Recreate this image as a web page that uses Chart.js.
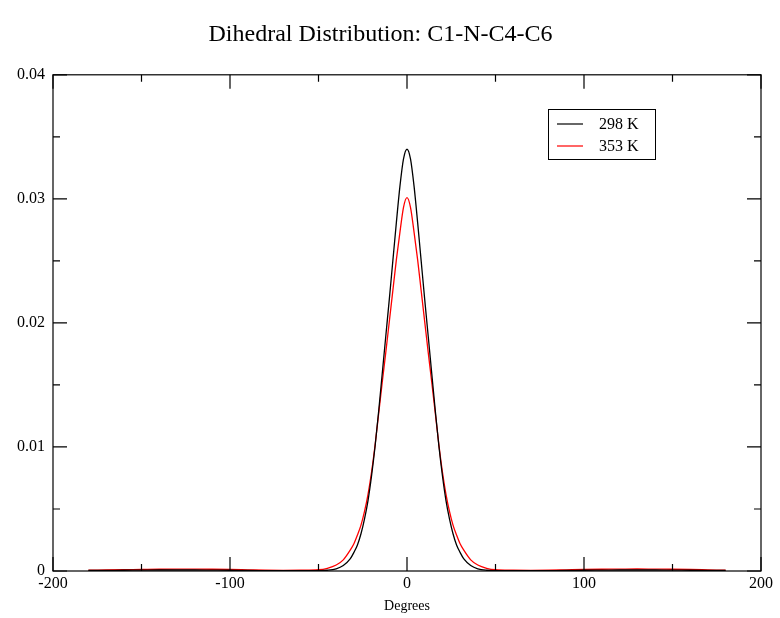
<!DOCTYPE html>
<html>
<head>
<meta charset="utf-8">
<script src="https://cdn.jsdelivr.net/npm/chart.js@4"></script>
<style>
  html, body { margin: 0; padding: 0; background: #fff; }
  #wrap { width: 780px; height: 618px; }
</style>
</head>
<body>
<div id="wrap"><canvas id="chart" width="780" height="618"></canvas></div>
<script>
// dihedral angle (degrees)
const angles = [
  -180, -170, -160, -150, -140, -130, -120, -110, -100, -90, -80, -70, -60, -50,
  -45, -40, -36, -32, -30, -28, -26, -24, -22, -20, -18, -16, -14, -12, -10, -8, -6, -4, -2,
  0,
  2, 4, 6, 8, 10, 12, 14, 16, 18, 20, 22, 24, 26, 28, 30, 32, 36, 40, 45,
  50, 60, 70, 80, 90, 100, 110, 120, 130, 140, 150, 160, 170, 180
];

const p298 = [
  0.00004, 0.00005, 0.00006, 0.00007, 0.00008, 0.00008, 0.00008, 0.00007, 0.00006, 0.00004, 0.00003, 0.00002, 0.00002, 0.00003,
  0.00006, 0.00018, 0.00045, 0.00100, 0.00150, 0.00210, 0.00300, 0.00420, 0.00570, 0.00770, 0.01010, 0.01290, 0.01590, 0.01890, 0.02190, 0.02500, 0.02810, 0.03100, 0.03320,
  0.03400,
  0.03320, 0.03100, 0.02810, 0.02500, 0.02190, 0.01890, 0.01590, 0.01290, 0.01010, 0.00770, 0.00570, 0.00420, 0.00300, 0.00210, 0.00150, 0.00100, 0.00045, 0.00018, 0.00006,
  0.00003, 0.00002, 0.00002, 0.00003, 0.00004, 0.00006, 0.00007, 0.00008, 0.00008, 0.00008, 0.00007, 0.00006, 0.00005, 0.00004
];

const p353 = [
  0.00006, 0.00008, 0.00010, 0.00012, 0.00014, 0.00015, 0.00015, 0.00014, 0.00012, 0.00009, 0.00006, 0.00005, 0.00006, 0.00010,
  0.00022, 0.00048, 0.00090, 0.00170, 0.00220, 0.00290, 0.00370, 0.00480, 0.00620, 0.00800, 0.01020, 0.01270, 0.01520, 0.01760, 0.02010, 0.02260, 0.02510, 0.02730, 0.02930,
  0.03010,
  0.02930, 0.02730, 0.02510, 0.02260, 0.02010, 0.01760, 0.01520, 0.01270, 0.01020, 0.00800, 0.00620, 0.00480, 0.00370, 0.00290, 0.00220, 0.00170, 0.00090, 0.00048, 0.00022,
  0.00010, 0.00006, 0.00005, 0.00006, 0.00009, 0.00012, 0.00014, 0.00015, 0.00016, 0.00015, 0.00014, 0.00012, 0.00009, 0.00006
];

const seriesLabels = ['298 K', '353 K'];
const seriesColors = ['#000000', '#ff0000'];
const xTicks = [-200, -100, 0, 100, 200];
const yTicks = [0, 0.01, 0.02, 0.03, 0.04];

const serif = '"Liberation Serif", "DejaVu Serif", serif';

function toPoints(xs, ys) {
  return xs.map((x, i) => ({ x: x, y: ys[i] }));
}

// xmgrace-like frame: box, inward ticks on all four sides, boxed legend
const framePlugin = {
  id: 'frame',
  afterDatasetsDraw(chart) {
    const ctx = chart.ctx;
    const a = chart.chartArea;
    const xs = chart.scales.x;
    const ys = chart.scales.y;
    ctx.save();
    ctx.strokeStyle = '#000';
    ctx.lineWidth = 1.2;
    ctx.strokeRect(a.left, a.top, a.right - a.left, a.bottom - a.top);

    ctx.beginPath();
    for (let v = -200; v <= 200; v += 50) {
      const px = xs.getPixelForValue(v);
      const len = v % 100 === 0 ? 14 : 7;
      ctx.moveTo(px, a.bottom); ctx.lineTo(px, a.bottom - len);
      ctx.moveTo(px, a.top); ctx.lineTo(px, a.top + len);
    }
    for (let k = 0; k <= 8; k++) {
      const py = ys.getPixelForValue(k * 0.005);
      const len = k % 2 === 0 ? 14 : 7;
      ctx.moveTo(a.left, py); ctx.lineTo(a.left + len, py);
      ctx.moveTo(a.right, py); ctx.lineTo(a.right - len, py);
    }
    ctx.stroke();

    // legend box
    const lx = 548, ly = 109, lw = 107, lh = 50;
    ctx.fillStyle = '#fff';
    ctx.fillRect(lx, ly, lw, lh);
    ctx.lineWidth = 1;
    ctx.strokeRect(lx + 0.5, ly + 0.5, lw, lh);
    ctx.font = '16px ' + serif;
    ctx.textBaseline = 'middle';
    ctx.textAlign = 'left';
    chart.data.datasets.forEach((ds, i) => {
      const y = ly + 15 + i * 22;
      ctx.strokeStyle = ds.borderColor;
      ctx.lineWidth = 1.2;
      ctx.beginPath();
      ctx.moveTo(lx + 9, y); ctx.lineTo(lx + 35, y);
      ctx.stroke();
      ctx.fillStyle = '#000';
      ctx.fillText(ds.label, lx + 51, y + 1);
    });
    ctx.restore();
  }
};

const ctx = document.getElementById('chart').getContext('2d');
const chart = new Chart(ctx, {
  type: 'line',
  data: {
    datasets: [
      { label: seriesLabels[0], data: toPoints(angles, p298), borderColor: seriesColors[0], borderWidth: 1.3, pointRadius: 0, cubicInterpolationMode: 'monotone', fill: false },
      { label: seriesLabels[1], data: toPoints(angles, p353), borderColor: seriesColors[1], borderWidth: 1.3, pointRadius: 0, cubicInterpolationMode: 'monotone', fill: false }
    ]
  },
  options: {
    responsive: false,
    animation: false,
    layout: { padding: { left: 0, right: 19, top: 0, bottom: 0 } },
    plugins: {
      legend: { display: false },
      tooltip: { enabled: false },
      title: {
        display: true,
        text: 'Dihedral Distribution: C1-N-C4-C6',
        color: '#000',
        font: { family: serif, size: 24, weight: 'normal' },
        padding: { top: 20, bottom: 26 }
      }
    },
    scales: {
      x: {
        type: 'linear',
        min: -200, max: 200,
        afterBuildTicks: s => { s.ticks = xTicks.map(v => ({ value: v })); },
        afterFit: s => { s.height = 47; },
        grid: { display: false, drawTicks: false },
        border: { display: false },
        ticks: { color: '#000', font: { family: serif, size: 16 }, padding: 3, maxRotation: 0 },
        title: { display: true, text: 'Degrees', color: '#000', font: { family: serif, size: 14 }, padding: { top: 0, bottom: 3 } }
      },
      y: {
        type: 'linear',
        min: 0, max: 0.04,
        afterBuildTicks: s => { s.ticks = yTicks.map(v => ({ value: v })); },
        afterFit: s => { s.width = 53; },
        grid: { display: false, drawTicks: false },
        border: { display: false },
        ticks: {
          color: '#000', font: { family: serif, size: 16 }, padding: 8,
          callback: v => v === 0 ? '0' : v.toFixed(2)
        }
      }
    }
  },
  plugins: [framePlugin]
});
</script>
</body>
</html>
